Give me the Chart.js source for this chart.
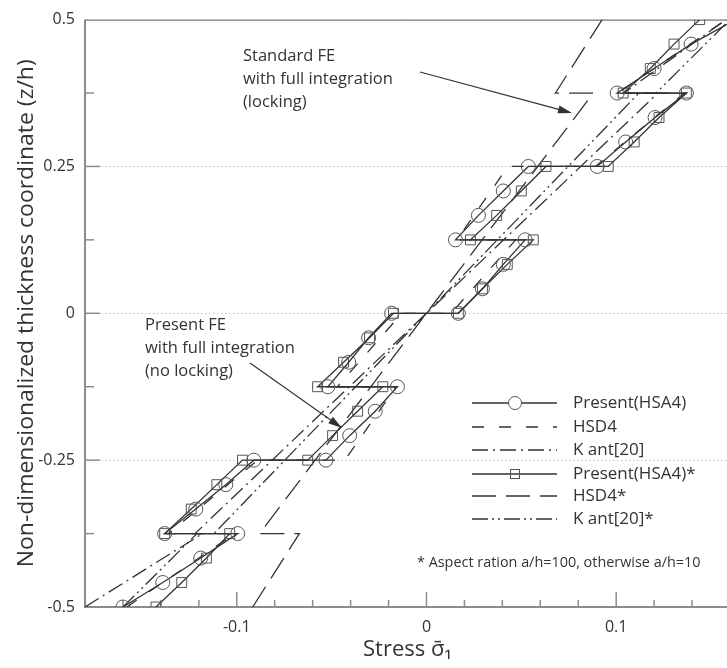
<!DOCTYPE html>
<html>
<head>
<meta charset="utf-8">
<script src="https://cdn.jsdelivr.net/npm/chart.js@4.4.1/dist/chart.umd.min.js"></script>
<style>
html, body { margin: 0; padding: 0; background: #fff; overflow: hidden; }
#wrap { position: relative; width: 741px; height: 668px; }
</style>
</head>
<body>
<div id="wrap"><canvas id="myChart" width="741" height="668"></canvas></div>
<script>
// thickness coordinate z/h for the 4 sample points of each of the 8 layers
var zPresent = [-0.5, -0.4583, -0.4167, -0.375,
                -0.375, -0.3333, -0.2917, -0.25,
                -0.25, -0.2083, -0.1667, -0.125,
                -0.125, -0.0833, -0.0417, 0,
                0, 0.0417, 0.0833, 0.125,
                0.125, 0.1667, 0.2083, 0.25,
                0.25, 0.2917, 0.3333, 0.375,
                0.375, 0.4167, 0.4583, 0.5];
var sPresent = [-0.160, -0.139, -0.119, -0.0995,
                -0.138, -0.1216, -0.1058, -0.091,
                -0.053, -0.0405, -0.027, -0.0153,
                -0.052, -0.041, -0.0305, -0.0184,
                0.0168, 0.0295, 0.0405, 0.052,
                0.0153, 0.0274, 0.0405, 0.0537,
                0.090, 0.105, 0.1205, 0.137,
                0.1005, 0.120, 0.1395, 0.163];
var sPresentStar = [-0.1426, -0.129, -0.116, -0.1037,
                    -0.138, -0.124, -0.1105, -0.097,
                    -0.0626, -0.0495, -0.0363, -0.023,
                    -0.0574, -0.0437, -0.030, -0.0174,
                    0.0168, 0.0295, 0.0426, 0.0563,
                    0.0232, 0.037, 0.050, 0.063,
                    0.0958, 0.1095, 0.1226, 0.137,
                    0.1037, 0.118, 0.1305, 0.144];

// layer bottom / top values for HSD4 (a/h=10)
var zLayer = [-0.5, -0.375, -0.375, -0.25, -0.25, -0.125, -0.125, 0,
              0, 0.125, 0.125, 0.25, 0.25, 0.375, 0.375, 0.5];
var sHSD4 = [-0.158, -0.101, -0.136, -0.089, -0.043, -0.016, -0.047, -0.013,
             0.013, 0.047, 0.016, 0.043, 0.089, 0.136, 0.101, 0.158];

// outer layers and the inner block for Kant[20] and HSD4*
var zOuter = [-0.5, -0.375, -0.375, 0.375, 0.375, 0.5];
var sKant = [-0.18, -0.118, -0.122, 0.122, 0.104, 0.158];
var sKantStar = [-0.16, -0.121, -0.112, 0.112, 0.121, 0.16];
var sHSD4Star = [-0.0916, -0.067, -0.088, 0.088, 0.068, 0.0926];

var xTicks = { min: -0.18, max: 0.16, step: 0.02 };
var yTicks = { min: -0.5, max: 0.5, step: 0.125 };

function pts(xs, zs) {
  return xs.map(function (v, i) { return { x: v, y: zs[i] }; });
}

var ink = '#333';
var fontFam = '"Open Sans", "Noto Sans", sans-serif';
var yTitle = 'Non-dimensionalized thickness coordinate (z/h)';

var series = [
  { label: 'Present(HSA4)', data: pts(sPresent, zPresent), dash: [], marker: 'circle' },
  { label: 'HSD4', data: pts(sHSD4, zLayer), dash: [12, 15], marker: false },
  { label: 'K ant[20]', data: pts(sKant, zOuter), dash: [16, 5, 2, 5], marker: false },
  { label: 'Present(HSA4)*', data: pts(sPresentStar, zPresent), dash: [], marker: 'rect' },
  { label: 'HSD4*', data: pts(sHSD4Star, zOuter), dash: [24, 10], marker: false },
  { label: 'K ant[20]*', data: pts(sKantStar, zOuter), dash: [16, 4, 2, 4, 2, 4], marker: false }
];

var datasets = series.map(function (s) {
  return {
    label: s.label,
    data: s.data,
    showLine: true,
    borderColor: ink,
    borderWidth: 1.3,
    borderDash: s.dash,
    pointStyle: s.marker || 'circle',
    pointRadius: s.marker ? 7 : 0,
    pointBorderWidth: 1,
    pointBorderColor: '#555',
    pointBackgroundColor: 'rgba(0,0,0,0)',
    pointHoverRadius: 0
  };
});

function near(v, step) {
  return Math.abs(v / step - Math.round(v / step)) < 1e-6;
}

var decor = {
  id: 'decor',
  beforeDatasetsDraw: function (chart) {
    var ctx = chart.ctx, a = chart.chartArea, x = chart.scales.x, y = chart.scales.y;
    ctx.save();
    // dotted horizontal grid at the labelled interior ticks
    ctx.strokeStyle = '#c4c4c4';
    ctx.lineWidth = 1;
    ctx.setLineDash([1.5, 2.5]);
    y.ticks.forEach(function (t) {
      if (near(t.value, 0.25) && t.value > -0.5 && t.value < 0.5) {
        var py = Math.round(y.getPixelForValue(t.value)) + 0.5;
        ctx.beginPath(); ctx.moveTo(a.left + 16, py); ctx.lineTo(a.right, py); ctx.stroke();
      }
    });
    ctx.setLineDash([]);
    // frame
    ctx.strokeStyle = '#555';
    ctx.lineWidth = 1;
    ctx.beginPath(); ctx.moveTo(a.left, a.top + 0.5); ctx.lineTo(a.right, a.top + 0.5); ctx.stroke();
    ctx.strokeStyle = '#8c8c8c';
    ctx.lineWidth = 2;
    ctx.beginPath(); ctx.moveTo(a.left, a.top); ctx.lineTo(a.left, a.bottom); ctx.lineTo(a.right, a.bottom); ctx.stroke();
    // inward ticks
    ctx.lineWidth = 1.5;
    x.ticks.forEach(function (t) {
      var px = x.getPixelForValue(t.value);
      var len = near(t.value, 0.1) ? 15 : 7;
      ctx.beginPath(); ctx.moveTo(px, a.bottom); ctx.lineTo(px, a.bottom - len); ctx.stroke();
    });
    y.ticks.forEach(function (t) {
      if (t.value <= -0.5 || t.value >= 0.5) return;
      var py = y.getPixelForValue(t.value);
      var len = near(t.value, 0.25) ? 15 : 9;
      ctx.beginPath(); ctx.moveTo(a.left, py); ctx.lineTo(a.left + len, py); ctx.stroke();
    });
    ctx.restore();
  },
  afterDraw: function (chart) {
    var ctx = chart.ctx, a = chart.chartArea;
    ctx.save();
    // y axis title, slightly condensed like the original typeface
    ctx.save();
    ctx.translate(33, (a.top + a.bottom) / 2);
    ctx.rotate(-Math.PI / 2);
    ctx.font = '22px ' + fontFam;
    var w = ctx.measureText(yTitle).width;
    ctx.scale(508 / w, 1);
    ctx.textAlign = 'center';
    ctx.textBaseline = 'alphabetic';
    ctx.fillStyle = '#333';
    ctx.fillText(yTitle, 0, 0);
    ctx.restore();

    // legend
    var rows = [403, 427, 450, 474, 496, 519];
    ctx.font = '17px ' + fontFam;
    ctx.textBaseline = 'middle';
    series.forEach(function (s, i) {
      var ry = rows[i];
      ctx.strokeStyle = ink;
      ctx.lineWidth = 1.3;
      ctx.setLineDash(s.dash);
      ctx.beginPath(); ctx.moveTo(472, ry); ctx.lineTo(557, ry); ctx.stroke();
      ctx.setLineDash([]);
      ctx.lineWidth = 1;
      ctx.strokeStyle = '#555';
      if (s.marker === 'circle') {
        ctx.fillStyle = '#fff';
        ctx.beginPath(); ctx.arc(515, ry, 6.5, 0, Math.PI * 2); ctx.fill(); ctx.stroke();
      } else if (s.marker === 'rect') {
        ctx.strokeRect(510.5, ry - 4.5, 9, 9);
      }
      ctx.fillStyle = '#333';
      ctx.fillText(s.label, 573, ry);
    });
    ctx.font = '14.4px ' + fontFam;
    ctx.fillText('* Aspect ration a/h=100, otherwise a/h=10', 417, 563);

    // annotations
    ctx.font = '16.5px ' + fontFam;
    ['Standard FE', 'with full integration', '(locking)'].forEach(function (t, i) {
      ctx.fillText(t, 243, 56 + i * 23);
    });
    ['Present FE', 'with full integration', '(no locking)'].forEach(function (t, i) {
      ctx.fillText(t, 145, 325 + i * 23);
    });
    arrow(ctx, 420, 72, 572, 113);
    arrow(ctx, 250, 363, 342, 428);
    ctx.restore();
  }
};

function arrow(ctx, x0, y0, x1, y1) {
  var ang = Math.atan2(y1 - y0, x1 - x0);
  ctx.strokeStyle = '#333';
  ctx.fillStyle = '#333';
  ctx.lineWidth = 1.2;
  ctx.beginPath(); ctx.moveTo(x0, y0);
  ctx.lineTo(x1 - 10 * Math.cos(ang), y1 - 10 * Math.sin(ang)); ctx.stroke();
  ctx.beginPath();
  ctx.moveTo(x1, y1);
  ctx.lineTo(x1 - 14 * Math.cos(ang) + 4 * Math.sin(ang), y1 - 14 * Math.sin(ang) - 4 * Math.cos(ang));
  ctx.lineTo(x1 - 14 * Math.cos(ang) - 4 * Math.sin(ang), y1 - 14 * Math.sin(ang) + 4 * Math.cos(ang));
  ctx.closePath(); ctx.fill();
}

var ctx = document.getElementById('myChart');
var myChart = new Chart(ctx, {
  type: 'scatter',
  data: { datasets: datasets },
  options: {
    responsive: false,
    animation: false,
    layout: { autoPadding: false, padding: { top: 15, right: 0, left: 0, bottom: 0 } },
    plugins: { legend: { display: false }, tooltip: { enabled: false } },
    scales: {
      x: {
        type: 'linear', min: xTicks.min, max: xTicks.max,
        afterFit: function (s) { s.height = 61; },
        grid: { display: false, drawTicks: false },
        border: { display: false },
        ticks: {
          stepSize: xTicks.step, padding: 11, color: '#333', maxRotation: 0, autoSkip: false,
          font: { size: 16, family: fontFam },
          callback: function (v) { return near(v, 0.1) ? String(Math.round(v * 10) / 10) : ''; }
        },
        title: { display: true, text: 'Stress σ̄₁', color: '#333', font: { size: 22, family: fontFam }, padding: { top: 0, bottom: 5 } }
      },
      y: {
        type: 'linear', min: yTicks.min, max: yTicks.max,
        afterFit: function (s) { s.width = 85; },
        grid: { display: false, drawTicks: false },
        border: { display: false },
        ticks: {
          stepSize: yTicks.step, padding: 10, color: '#333', autoSkip: false,
          font: { size: 16, family: fontFam },
          callback: function (v) { return near(v, 0.25) ? String(Math.round(v * 100) / 100) : ''; }
        },
        title: { display: false }
      }
    }
  },
  plugins: [decor]
});
</script>
</body>
</html>
